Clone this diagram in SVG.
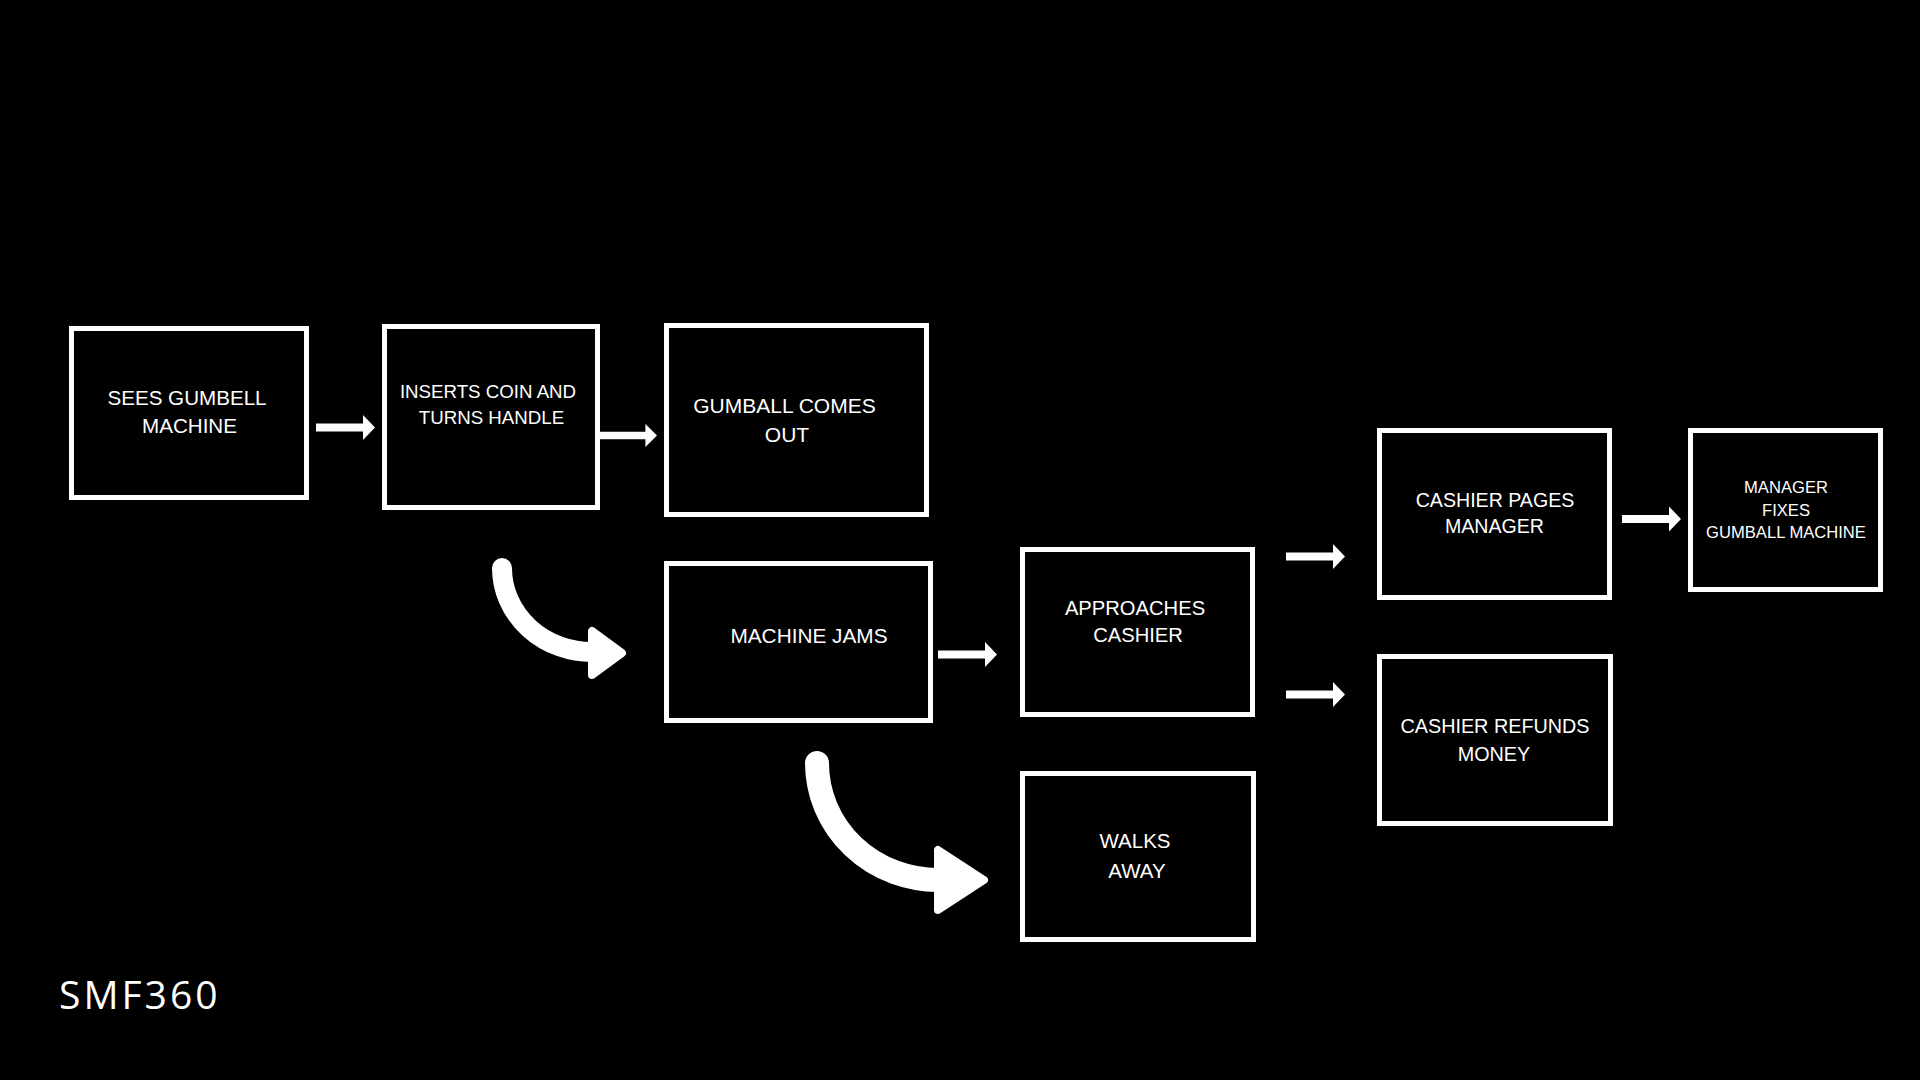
<svg xmlns="http://www.w3.org/2000/svg" xmlns:xlink="http://www.w3.org/1999/xlink" width="1920" height="1080" viewBox="0 0 1920 1080">
<style>
.box{fill:#000;stroke:#fff;stroke-width:5}
.t{font-family:"Liberation Sans",Arial,sans-serif;fill:#fff;text-anchor:middle}
.curve{fill:none;stroke:#fff;stroke-linecap:round}
.head{fill:#fff;stroke:#fff;stroke-linejoin:round;stroke-width:8}
</style>
<defs>
<path id="arr" d="M0,-4 H47 V-12.5 L59,0 L47,12.5 V4 H0 Z" fill="#fff"/>
</defs>
<rect width="1920" height="1080" fill="#000"/>

<g id="connectors">
<use xlink:href="#arr" href="#arr" transform="translate(316,427.5)"/>
<use xlink:href="#arr" href="#arr" transform="translate(600,435.5) scale(0.966,0.92)"/>
<use xlink:href="#arr" href="#arr" transform="translate(938,654.5)"/>
<use xlink:href="#arr" href="#arr" transform="translate(1286,556.5)"/>
<use xlink:href="#arr" href="#arr" transform="translate(1286,694.5)"/>
<use xlink:href="#arr" href="#arr" transform="translate(1622,519)"/>
<path class="curve" stroke-width="20" d="M502,568 A90 84 0 0 0 594 652"/>
<polygon class="head" points="592,631 592,675 622,653"/>
<path class="curve" stroke-width="24" d="M817,763 A121 117 0 0 0 940 880"/>
<polygon class="head" points="938,850 938,910 984,880"/>
</g>

<g id="n1"><rect class="box" x="71.5" y="328.5" width="235" height="169"/>
<text class="t" font-size="20.6" x="187" y="405">SEES GUMBELL</text>
<text class="t" font-size="20.6" x="189.5" y="433">MACHINE</text></g>

<g id="n2"><rect class="box" x="384.5" y="326.5" width="213" height="181"/>
<text class="t" font-size="18.7" x="488" y="398">INSERTS COIN AND</text>
<text class="t" font-size="18.7" x="491.5" y="424">TURNS HANDLE</text></g>

<g id="n3"><rect class="box" x="666.5" y="325.5" width="260" height="189"/>
<text class="t" font-size="21" x="784.5" y="413">GUMBALL COMES</text>
<text class="t" font-size="21" x="787" y="442">OUT</text></g>

<g id="n4"><rect class="box" x="666.5" y="563.5" width="264" height="157"/>
<text class="t" font-size="20.8" x="809" y="643">MACHINE JAMS</text></g>

<g id="n5"><rect class="box" x="1022.5" y="549.5" width="230" height="165"/>
<text class="t" font-size="20.2" x="1135" y="615">APPROACHES</text>
<text class="t" font-size="20.2" x="1138" y="642">CASHIER</text></g>

<g id="n6"><rect class="box" x="1022.5" y="773.5" width="231" height="166"/>
<text class="t" font-size="20.5" x="1135" y="848">WALKS</text>
<text class="t" font-size="20.5" x="1137" y="878">AWAY</text></g>

<g id="n7"><rect class="box" x="1379.5" y="430.5" width="230" height="167"/>
<text class="t" font-size="19.6" x="1495" y="507">CASHIER PAGES</text>
<text class="t" font-size="19.6" x="1494.5" y="533">MANAGER</text></g>

<g id="n8"><rect class="box" x="1690.5" y="430.5" width="190" height="159"/>
<text class="t" font-size="16.6" x="1786" y="493">MANAGER</text>
<text class="t" font-size="16.6" x="1786" y="516">FIXES</text>
<text class="t" font-size="16.6" x="1786" y="538">GUMBALL MACHINE</text></g>

<g id="n9"><rect class="box" x="1379.5" y="656.5" width="231" height="167"/>
<text class="t" font-size="19.8" x="1495" y="733">CASHIER REFUNDS</text>
<text class="t" font-size="19.8" x="1494" y="761">MONEY</text></g>

<text x="59" y="1009" font-family="'Open Sans','Noto Sans',sans-serif" font-size="39" letter-spacing="3" fill="#fff">SMF360</text>
</svg>
